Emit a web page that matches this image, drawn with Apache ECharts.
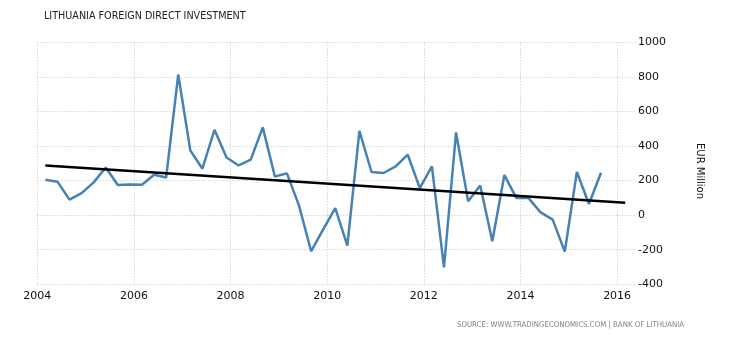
<!DOCTYPE html>
<html>
<head>
<meta charset="utf-8">
<script src="https://cdn.jsdelivr.net/npm/echarts@6/dist/echarts.min.js"></script>
<style>
html,body{margin:0;padding:0;background:#fff;}
#chart{width:730px;height:340px;}
</style>
</head>
<body>
<div id="chart"></div>
<script>
const dates = [
  "2004-03","2004-06","2004-09","2004-12",
  "2005-03","2005-06","2005-09","2005-12",
  "2006-03","2006-06","2006-09","2006-12",
  "2007-03","2007-06","2007-09","2007-12",
  "2008-03","2008-06","2008-09","2008-12",
  "2009-03","2009-06","2009-09","2009-12",
  "2010-03","2010-06","2010-09","2010-12",
  "2011-03","2011-06","2011-09","2011-12",
  "2012-03","2012-06","2012-09","2012-12",
  "2013-03","2013-06","2013-09","2013-12",
  "2014-03","2014-06","2014-09","2014-12",
  "2015-03","2015-06","2015-09"
];
const fdi = [
  205, 194, 90, 128,
  190, 276, 175, 178,
  176, 234, 218, 814,
  375, 269, 494, 334,
  288, 321, 508, 224,
  242, 55, -209, -82,
  41, -176, 488, 250,
  244, 282, 350, 157,
  282, -302, 479, 80,
  172, -151, 232, 99,
  99, 16, -26, -211,
  250, 65, 246
];
const trendDates = ["2004-03", "2016-03"];
const trendValues = [288, 72];
const xTickYears = [2004, 2006, 2008, 2010, 2012, 2014, 2016];
const yTicks = [-400, -200, 0, 200, 400, 600, 800, 1000];

const title = "LITHUANIA FOREIGN DIRECT INVESTMENT";
const source = "SOURCE: WWW.TRADINGECONOMICS.COM | BANK OF LITHUANIA";
const unit = "EUR Million";

function toYear(s) {
  const [y, m] = s.split("-").map(Number);
  return y + (m - 1) / 12;
}

const chart = echarts.init(document.getElementById("chart"), null, {renderer: "canvas"});
const gridColor = "#c4c4c4";
const dotted = {color: gridColor, type: [1, 2], width: 1};
chart.setOption({
  animation: false,
  backgroundColor: "#ffffff",
  textStyle: {fontFamily: "DejaVu Sans"},
  grid: {left: 37.3, right: 95, top: 42.4, bottom: 55.7, containLabel: false},
  xAxis: {
    type: "value",
    min: xTickYears[0],
    max: 2016.37,
    interval: 2,
    axisLine: {show: false},
    axisTick: {show: true, length: 3, lineStyle: dotted},
    splitLine: {show: true, showMaxLine: false, lineStyle: dotted},
    axisLabel: {
      color: "#111",
      fontSize: 11,
      fontFamily: "DejaVu Sans",
      margin: 6,
      showMaxLabel: false,
      formatter: v => (xTickYears.includes(v) ? String(v) : "")
    }
  },
  yAxis: {
    type: "value",
    position: "right",
    min: yTicks[0],
    max: yTicks[yTicks.length - 1],
    interval: 200,
    axisLine: {show: false},
    axisTick: {show: false},
    splitLine: {show: true, lineStyle: dotted},
    axisLabel: {color: "#111", fontSize: 11, fontFamily: "DejaVu Sans", margin: 3,
      formatter: v => String(v)}
  },
  graphic: [
    {type: "text", left: 44, top: 11, style: {text: title, fill: "#222", font: "10.7px 'DejaVu Sans Condensed'"}},
    {type: "text", left: 457, top: 321, style: {text: source, fill: "#7a8490", font: "7.8px 'DejaVu Sans Condensed'"}},
    {type: "text", x: 700, y: 171, rotation: -Math.PI / 2,
     style: {text: unit, fill: "#111", font: "10px 'DejaVu Sans'", align: "center", verticalAlign: "middle"}}
  ],
  series: [
    {
      type: "line",
      data: dates.map((d, i) => [toYear(d), fdi[i]]),
      showSymbol: false,
      lineStyle: {color: "#4682b4", width: 2.5},
      z: 2
    },
    {
      type: "line",
      data: trendDates.map((d, i) => [toYear(d), trendValues[i]]),
      showSymbol: false,
      lineStyle: {color: "#000000", width: 2.5},
      z: 3
    }
  ]
});
</script>
</body>
</html>
